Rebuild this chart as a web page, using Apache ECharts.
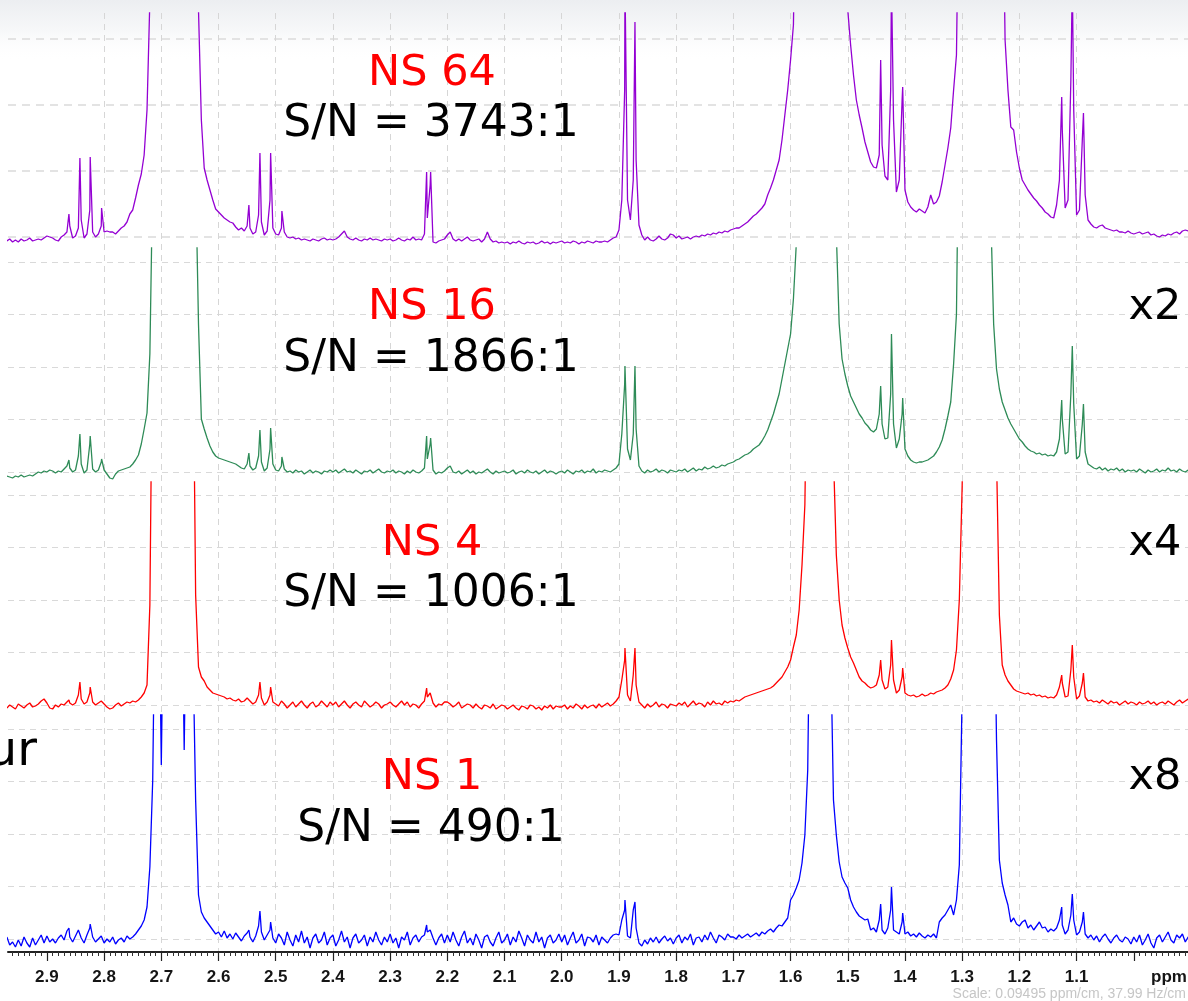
<!DOCTYPE html>
<html>
<head>
<meta charset="utf-8">
<script src="https://cdn.jsdelivr.net/npm/echarts@6/dist/echarts.min.js"></script>
<style>
html,body{margin:0;padding:0;background:#fff;}
#chart{width:1188px;height:1001px;}
</style>
</head>
<body>
<div id="chart"></div>
<script>
// Stored traces are sampled on an even chemical-shift grid, high to low ppm.
const PPM_FIRST = 2.970;
const PPM_STEP = 0.005;

// Axis labelling
const tickValues = [2.9, 2.8, 2.7, 2.6, 2.5, 2.4, 2.3, 2.2, 2.1, 2.0, 1.9, 1.8, 1.7, 1.6, 1.5, 1.4, 1.3, 1.2, 1.1, 1.0];
const labelValues = [2.9, 2.8, 2.7, 2.6, 2.5, 2.4, 2.3, 2.2, 2.1, 2.0, 1.9, 1.8, 1.7, 1.6, 1.5, 1.4, 1.3, 1.2, 1.1];

// Panel captions
const scanLabels = ['NS 64', 'NS 16', 'NS 4', 'NS 1'];
const snLabels = ['S/N = 3743:1', 'S/N = 1866:1', 'S/N = 1006:1', 'S/N = 490:1'];
const gainLabels = ['', 'x2', 'x4', 'x8'];

// NS 64 trace (displayed intensity above baseline)
const ns64 = [
  -1, 1, -2, 0, -2, 1, -1, 0, 2, -1, 0, 1, 0, 2,
  4, 3, 2, 0, -1, 3, 5, 8, 14, 2, 4, 12, 20, 2, 6, 30, 8, 3, 6, 14,
  8, 9, 8, 8, 6, 9, 12, 14, 18, 26, 30, 42, 55, 66, 85, 130, 240, 400, 400, 400,
  400, 400, 400, 400, 400, 400, 400, 400, 400, 400, 400, 400, 400, 230, 120, 72, 60, 50, 40, 31,
  28, 25, 22, 20, 18, 17, 13, 10, 12, 9, 14, 12, 6, 8, 25, 18, 5, 9, 40, 12,
  6, 5, 12, 8, 3, 2, 3, 1, 2, 0, 1, 0, -1, 1, 0, -1, 1, 2, 0, 1,
  0, 1, 3, 6, 9, 3, 1, 0, 2, 0, -1, 1, 0, 2, 0, 1, 0, -1, 1, 0,
  1, -1, 0, 2, 0, -1, 1, 0, 3, 0, 1, 0, 6, 22, 55, -2, -3, -1, 0, 1,
  5, 8, 1, -1, 1, -1, 1, 3, 0, -1, 0, 1, -2, 1, 8, 1, -2, -1, -3, -2,
  -3, -2, -4, -2, -3, -1, -3, -4, -2, -3, -2, -4, -3, -1, -3, -2, -4, -2, -3, -2,
  -1, -3, -2, -3, -1, -2, -4, -2, -3, -1, -2, -3, -1, -2, -2, -1, -2, 0, 2, 3,
  10, 40, 150, 40, 20, 60, 80, 15, 5, 0, 3, 0, -1, 1, 4, 1, 0, 2, 6, 5,
  2, 4, 1, 2, 3, 1, 3, 4, 3, 5, 4, 6, 5, 7, 6, 8, 7, 9, 8, 10,
  11, 12, 12, 14, 16, 18, 21, 24, 26, 29, 32, 36, 45, 52, 60, 70, 80, 100, 125, 150,
  180, 215, 400, 400, 400, 400, 400, 400, 400, 400, 400, 400, 400, 400, 400, 400, 400, 400, 400, 400,
  230, 195, 165, 140, 125, 112, 98, 88, 78, 73, 72, 85, 95, 64, 60, 150, 120, 48, 60, 140,
  50, 38, 33, 30, 28, 31, 29, 27, 33, 45, 36, 38, 44, 58, 75, 92, 112, 150, 185, 400,
  400, 400, 400, 400, 400, 400, 400, 400, 400, 400, 400, 400, 400, 400, 400, 200, 150, 113, 110, 88,
  72, 60, 55, 50, 46, 42, 39, 35, 32, 28, 26, 23, 22, 35, 60, 110, 32, 40, 160, 130,
  25, 30, 100, 45, 20, 16, 13, 12, 14, 15, 12, 11, 10, 9, 10, 8, 8, 7, 9, 7,
  6, 7, 8, 6, 7, 8, 5, 6, 4, 3, 5, 4, 6, 5, 7, 8, 6, 9, 10, 9,
  9
];
const ns64Lines = [
  [2.8615, 26], [2.8423, 82], [2.8243, 83], [2.8044, 32],
  [2.5469, 35], [2.5276, 87], [2.5089, 87], [2.4892, 29],
  [2.2362, 68], [2.2292, 68],
  [1.8895, 260], [1.8720, 218],
  [1.4425, 180], [1.4236, 260], [1.4040, 153],
  [1.1260, 143], [1.1075, 260], [1.0880, 127]
];

// NS 16 trace
const ns16 = [
  -2, -3, -4, -2, -3, -1, -3, -2, -1, -2, 0, 2, 1, 3,
  2, 4, 3, 1, 3, 2, 5, 8, 6, 2, 4, 18, 10, 1, 4, 30, 5, 2, 4, 12,
  4, 0, -4, -5, 0, 3, 4, 5, 6, 7, 10, 14, 19, 30, 45, 61, 120, 300, 400, 400,
  400, 400, 400, 400, 400, 400, 400, 400, 400, 400, 400, 400, 300, 150, 55, 45, 36, 28, 22, 18,
  16, 15, 14, 13, 12, 11, 10, 8, 6, 5, 10, 8, 4, 6, 18, 12, 3, 6, 25, 10,
  4, 3, 8, 5, 2, 3, 1, 4, 2, 3, 0, 2, 4, 1, 3, 2, 0, 3, 2, 4,
  2, 4, 1, 3, 5, 2, 3, 1, 4, 2, 0, 3, 2, 4, 1, 3, 5, 2, 1, 3,
  2, 4, 1, 3, 2, 0, 3, 1, 4, 2, 1, 3, 6, 15, 30, 4, 0, 2, 1, 3,
  6, 8, 2, 1, 3, 0, 2, 4, 1, 3, 0, 2, 1, 3, 5, 2, 0, 3, 1, 2,
  3, 1, 2, 4, 0, 2, 3, 1, 4, 2, 1, 3, 0, 2, 4, 1, 3, 2, 0, 2,
  3, 1, 4, 2, 0, 3, 2, 4, 1, 3, 2, 5, 1, 3, 2, 4, 3, 2, 4, 6,
  10, 40, 90, 25, 14, 40, 45, 8, 3, 1, 4, 2, 3, 5, 2, 4, 3, 1, 4, 3,
  2, 4, 3, 5, 2, 4, 6, 3, 5, 4, 7, 5, 6, 8, 6, 7, 9, 8, 10, 11,
  12, 14, 15, 17, 19, 20, 22, 25, 27, 29, 33, 38, 44, 52, 60, 70, 80, 95, 110, 125,
  140, 175, 230, 400, 400, 400, 400, 400, 400, 400, 400, 400, 400, 400, 400, 400, 240, 150, 115, 100,
  88, 78, 72, 66, 60, 56, 51, 48, 44, 42, 45, 60, 50, 35, 36, 80, 50, 26, 35, 60,
  25, 18, 14, 12, 11, 12, 12, 13, 14, 16, 18, 22, 27, 34, 45, 58, 72, 110, 160, 400,
  400, 400, 400, 400, 400, 400, 400, 400, 400, 400, 260, 150, 105, 85, 72, 64, 56, 50, 45, 40,
  35, 32, 28, 25, 23, 22, 20, 21, 19, 20, 18, 19, 18, 22, 35, 55, 20, 22, 80, 70,
  15, 18, 50, 22, 10, 8, 6, 5, 7, 4, 6, 3, 5, 4, 6, 3, 5, 2, 4, 3,
  4, 2, 5, 3, 1, 4, 2, 3, 5, 2, 4, 3, 6, 3, 4, 2, 5, 3, 2, 4,
  3
];
const ns16Lines = [
  [2.8615, 14], [2.8423, 40], [2.8243, 38], [2.8044, 15],
  [2.5469, 21], [2.5276, 44], [2.5089, 46], [2.4892, 17],
  [2.2362, 38], [2.2292, 36], [2.1970, 8],
  [1.8895, 108], [1.8720, 108],
  [1.4425, 88], [1.4236, 140], [1.4040, 76],
  [1.1260, 74], [1.1075, 128], [1.0880, 70]
];

// NS 4 trace
const ns4 = [
  -3, 0, -2, -4, 1, -1, -3, 0, 2, -2, -1, 1, 4, 6,
  2, -3, -4, 0, -2, 1, 0, 3, 2, 0, 2, 10, 6, 1, 3, 12, 3, 0, 2, 4,
  1, -2, -4, -3, 0, 2, -1, 1, 3, 2, 4, 3, 5, 8, 12, 20, 100, 400, 400, 400,
  400, 400, 400, 400, 400, 400, 400, 400, 400, 400, 400, 400, 110, 38, 28, 24, 18, 15, 12, 11,
  10, 9, 8, 6, 7, 5, 4, 6, 3, 4, 7, 4, 1, 3, 10, 7, 0, 3, 10, 3,
  1, -1, 4, 1, -3, 0, 3, -2, 1, 4, 0, -3, 1, 3, -2, 0, 4, 1, -2, 3,
  0, 3, -2, 1, 4, 0, -3, 1, 3, 0, -2, 4, 1, -2, 0, 3, 1, -3, 0, 1,
  3, 0, -2, 1, 4, 0, 3, -2, 1, 0, -3, 1, 4, 8, 12, 2, -2, 1, 0, 3,
  3, 1, -2, 0, 3, -3, -1, 1, 0, -3, 1, -2, -4, 0, -1, -3, 1, -4, -2, 0,
  -1, -4, -2, 0, -3, -5, -1, -2, -4, 0, -1, -4, -2, -5, -1, -3, 0, -4, -1, -2,
  -2, 0, -4, -1, -3, 1, -1, -4, 0, -3, -1, 0, -3, 1, -2, 0, 2, -1, 1, 4,
  8, 25, 45, 10, 4, 30, 20, 3, 0, -3, 1, -2, 0, 3, -2, 1, 0, -3, 1, 0,
  -1, 2, 0, 3, -2, 1, 4, 0, 2, 1, -2, 3, 0, 4, 1, 2, 0, 4, 2, 4,
  3, 5, 4, 6, 8, 9, 10, 11, 12, 13, 14, 15, 16, 17, 19, 22, 25, 28, 33, 38,
  45, 58, 70, 95, 140, 200, 400, 400, 400, 400, 400, 400, 400, 400, 400, 250, 150, 105, 80, 67,
  57, 48, 42, 35, 28, 24, 22, 19, 17, 18, 20, 30, 25, 16, 18, 40, 25, 12, 15, 28,
  12, 10, 9, 10, 8, 9, 11, 9, 10, 12, 11, 13, 14, 15, 17, 20, 26, 35, 55, 105,
  220, 400, 400, 400, 400, 400, 400, 400, 400, 400, 400, 400, 250, 90, 40, 30, 24, 20, 16, 14,
  13, 12, 11, 12, 10, 11, 9, 10, 8, 9, 7, 8, 7, 10, 18, 22, 8, 9, 35, 28,
  6, 9, 22, 8, 4, 5, 3, 4, 2, 5, 3, 1, 4, 2, 3, 0, 2, 4, 1, 3,
  2, 0, 3, 1, 2, 4, 1, 3, 0, 2, 3, 1, 4, 2, 0, 3, 5, 2, 4, 6,
  5
];
const ns4Lines = [
  [2.8615, 5], [2.8423, 23], [2.8243, 18], [2.8044, 6],
  [2.5469, 8], [2.5276, 23], [2.5089, 18], [2.4892, 6],
  [2.2362, 17], [2.2292, 12],
  [1.8895, 57], [1.8720, 57],
  [1.4425, 45], [1.4236, 65], [1.4040, 37],
  [1.1260, 30], [1.1075, 60], [1.0880, 32]
];

// NS 1 trace
const ns1 = [
  3, -5, -2, -7, 0, -6, 3, -3, -7, 2, -5, 0, 5, -3,
  4, -2, 1, -3, 2, 5, 0, 9, 3, -2, 4, 10, 2, -3, 5, 12, 3, -2, 1, 4,
  -3, 1, -2, 3, -4, 0, 2, -2, 4, 1, 3, 6, 10, 14, 20, 33, 73, 160, 400, 400,
  175, 400, 400, 400, 400, 400, 400, 400, 190, 400, 400, 300, 140, 45, 28, 22, 18, 14, 10, 6,
  8, 3, 9, 2, 6, 1, 7, 3, -1, 4, 7, 3, -2, 4, 14, 8, 0, 5, 10, 2,
  -3, 6, 2, -5, 8, 0, -6, 5, -2, 9, -3, 3, -8, 2, 6, -3, 0, 8, -5, 2,
  5, -6, 0, 9, -2, 3, -8, 2, 6, -3, 0, 5, -6, 3, -2, 8, 0, -5, 3, -2,
  6, -3, 2, -8, 3, 0, 8, -5, 2, 5, -2, 3, 5, 8, 10, 2, -5, 2, 6, -3,
  5, -2, 8, 0, -6, 3, 9, -3, 2, -5, 6, 0, -8, 3, 5, -2, -6, 2, 8, -3,
  0, 6, -5, 3, -2, 9, 2, -6, 5, 0, -3, 8, -2, 3, -8, 2, 5, -3, 0, 6,
  -2, 5, -5, 2, 8, -3, 0, 6, -6, 3, 2, -2, 5, -5, 3, 0, -3, 2, 5, 6,
  5, 20, 30, 4, 2, 30, 12, -3, -6, 0, -4, 2, -2, 3, -3, 1, 4, -1, 2, -4,
  2, 5, -3, 3, 0, 6, -5, 2, 3, -2, 5, 0, 8, 2, -3, 5, 3, 0, 6, 3,
  3, 1, 5, 2, 4, 6, 3, 5, 7, 4, 8, 6, 9, 11, 8, 12, 15, 14, 18, 22,
  40, 45, 52, 60, 77, 105, 170, 400, 400, 400, 400, 400, 400, 400, 300, 140, 105, 78, 63, 57,
  52, 40, 33, 28, 24, 22, 20, 21, 10, 12, 8, 20, 10, 6, 12, 30, 10, 8, 6, 18,
  6, 8, 4, 6, 3, 7, 4, 2, 5, 3, 6, 2, 18, 22, 25, 30, 35, 25, 40, 75,
  250, 400, 400, 400, 400, 400, 400, 400, 400, 400, 400, 400, 200, 80, 57, 45, 35, 18, 22, 16,
  14, 18, 20, 12, 15, 10, 14, 18, 12, 13, 8, 11, 9, 12, 20, 15, 6, 10, 25, 20,
  5, 8, 18, 6, 2, 5, 0, 4, -2, 3, 6, 1, -3, 2, 5, 0, -2, 3, 1, -4,
  3, -2, 5, -5, 0, 6, -3, -8, 2, 5, -2, 3, 8, 0, -3, 5, 2, 6, -2, 3,
  3
];
const ns1Lines = [
  [2.8615, 12], [2.8423, 10], [2.8243, 16],
  [2.5469, 10], [2.5276, 29], [2.5089, 18],
  [2.2362, 15], [2.2292, 10],
  [1.8895, 40], [1.8720, 38],
  [1.4425, 36], [1.4236, 53], [1.4040, 27],
  [1.1260, 33], [1.1075, 46], [1.0880, 28]
];

const traces = [
  { samples: ns64, lines: ns64Lines },
  { samples: ns16, lines: ns16Lines },
  { samples: ns4, lines: ns4Lines },
  { samples: ns1, lines: ns1Lines }
];

// ---- layout & styling ----
const PPM_MIN = 0.9, PPM_MAX = 2.968;
const traceColors = ['#9400d3', '#2e8b57', '#ff0000', '#0000ff'];
// vertical band of each stacked trace: clip top, clip bottom, baseline (px)
const bands = [
  { top: 13, bottom: 258, base: 240 },
  { top: 248, bottom: 492, base: 474 },
  { top: 482, bottom: 725, base: 705 },
  { top: 715, bottom: 952, base: 940 }
];
// horizontal dashed rules in each band
const rules = [
  { top: 39, height: 198, steps: 3, width: 2, color: '#e3e3e3', dash: [8, 6] },
  { top: 262, height: 210, steps: 4, width: 1, color: '#d9d9d9', dash: [6, 5] },
  { top: 495, height: 210, steps: 4, width: 1, color: '#d9d9d9', dash: [6, 5] },
  { top: 729, height: 210, steps: 4, width: 1, color: '#d9d9d9', dash: [6, 5] }
];
const captionY = [73.5, 308, 544, 778];
const snY = [125, 360, 595, 830];

function buildTrace(t) {
  const pts = t.samples.map((v, i) => [+(PPM_FIRST - i * PPM_STEP).toFixed(4), v]);
  t.lines.forEach(p => pts.push([p[0], p[1]]));
  pts.sort((a, b) => b[0] - a[0]);
  return pts;
}

const grids = [], xAxes = [], yAxes = [], series = [];

// frame: ppm axis + vertical rules
grids.push({ left: 8, right: -3, top: 13, bottom: 49, outerBoundsMode: 'none', containLabel: false });
xAxes.push({
  gridIndex: 0, type: 'value', min: PPM_MIN, max: PPM_MAX, inverse: true, interval: 0.1,
  axisLine: { show: true, lineStyle: { color: '#222', width: 2 } },
  axisTick: { show: true, customValues: tickValues, length: 9, lineStyle: { color: '#222', width: 1.2 } },
  minorTick: { show: true, splitNumber: 10, length: 4, lineStyle: { color: '#333', width: 1 } },
  axisLabel: {
    customValues: labelValues, margin: 17, color: '#151515', fontSize: 17, fontWeight: 'bold',
    fontFamily: '"Liberation Sans", Arial, sans-serif',
    formatter: v => v.toFixed(1)
  },
  splitLine: { show: true, showMinLine: false, showMaxLine: false, lineStyle: { color: '#d6d6d6', width: 1, type: [6, 5] } }
});
yAxes.push({ gridIndex: 0, type: 'value', min: 0, max: 1, show: false });

// horizontal rules
rules.forEach((r) => {
  const gi = grids.length;
  grids.push({ left: 8, right: 0, top: r.top, height: r.height, outerBoundsMode: 'none', containLabel: false });
  xAxes.push({ gridIndex: gi, type: 'value', min: 0, max: 1, show: false });
  yAxes.push({
    gridIndex: gi, type: 'value', min: 0, max: r.steps, interval: 1,
    axisLine: { show: false }, axisTick: { show: false }, axisLabel: { show: false },
    splitLine: { show: true, lineStyle: { color: r.color, width: r.width, type: r.dash } }
  });
});

// traces
traces.forEach((t, k) => {
  const b = bands[k];
  const gi = grids.length;
  grids.push({ left: 8, right: -3, top: b.top, height: b.bottom - b.top, outerBoundsMode: 'none', containLabel: false });
  xAxes.push({ gridIndex: gi, type: 'value', min: PPM_MIN, max: PPM_MAX, inverse: true, show: false });
  yAxes.push({ gridIndex: gi, type: 'value', min: -(b.bottom - b.base), max: b.base - b.top, show: false });
  series.push({
    type: 'line', xAxisIndex: gi, yAxisIndex: gi, data: buildTrace(t),
    showSymbol: false, symbol: 'none', clip: true, silent: true,
    lineStyle: { color: traceColors[k], width: 1.3 }, z: 3
  });
});

// captions
const capFont = '"DejaVu Sans", Verdana, sans-serif';
const graphics = [
  {
    type: 'rect', z: -10, silent: true,
    shape: { x: 0, y: 0, width: 1188, height: 62 },
    style: {
      fill: new echarts.graphic.LinearGradient(0, 0, 0, 1, [
        { offset: 0, color: '#eceef1' },
        { offset: 0.5, color: '#f7f8f9' },
        { offset: 1, color: 'rgba(255,255,255,0)' }
      ])
    }
  }
];
scanLabels.forEach((s, k) => {
  graphics.push({ type: 'text', z: 50, x: 432, y: captionY[k],
    style: { text: s, fill: '#ff0000', fontSize: 43, fontFamily: capFont, align: 'center', verticalAlign: 'middle' } });
  graphics.push({ type: 'text', z: 50, x: 431, y: snY[k],
    style: { text: snLabels[k], fill: '#000000', fontSize: 44, fontFamily: capFont, align: 'center', verticalAlign: 'middle' } });
  if (gainLabels[k]) {
    graphics.push({ type: 'text', z: 50, x: 1155, y: captionY[k],
      style: { text: gainLabels[k], fill: '#000000', fontSize: 43, fontFamily: capFont, align: 'center', verticalAlign: 'middle' } });
  }
});
graphics.push({ type: 'text', z: 50, x: 37, y: 753,
  style: { text: 'ur', fill: '#000000', fontSize: 48, fontFamily: capFont, align: 'right', verticalAlign: 'middle' } });
graphics.push({ type: 'text', z: 50, x: 1169, y: 977,
  style: { text: 'ppm', fill: '#151515', fontSize: 17, fontWeight: 'bold', fontFamily: '"Liberation Sans", Arial, sans-serif', align: 'center', verticalAlign: 'middle' } });
graphics.push({ type: 'text', z: 50, x: 1186, y: 994,
  style: { text: 'Scale: 0.09495 ppm/cm, 37.99 Hz/cm', fill: '#c6c6c6', fontSize: 14, fontFamily: '"Liberation Sans", Arial, sans-serif', align: 'right', verticalAlign: 'middle' } });

const chart = echarts.init(document.getElementById('chart'), null, { renderer: 'canvas' });
chart.setOption({
  backgroundColor: '#ffffff',
  animation: false,
  grid: grids,
  xAxis: xAxes,
  yAxis: yAxes,
  series: series,
  graphic: graphics
});
</script>
</body>
</html>
